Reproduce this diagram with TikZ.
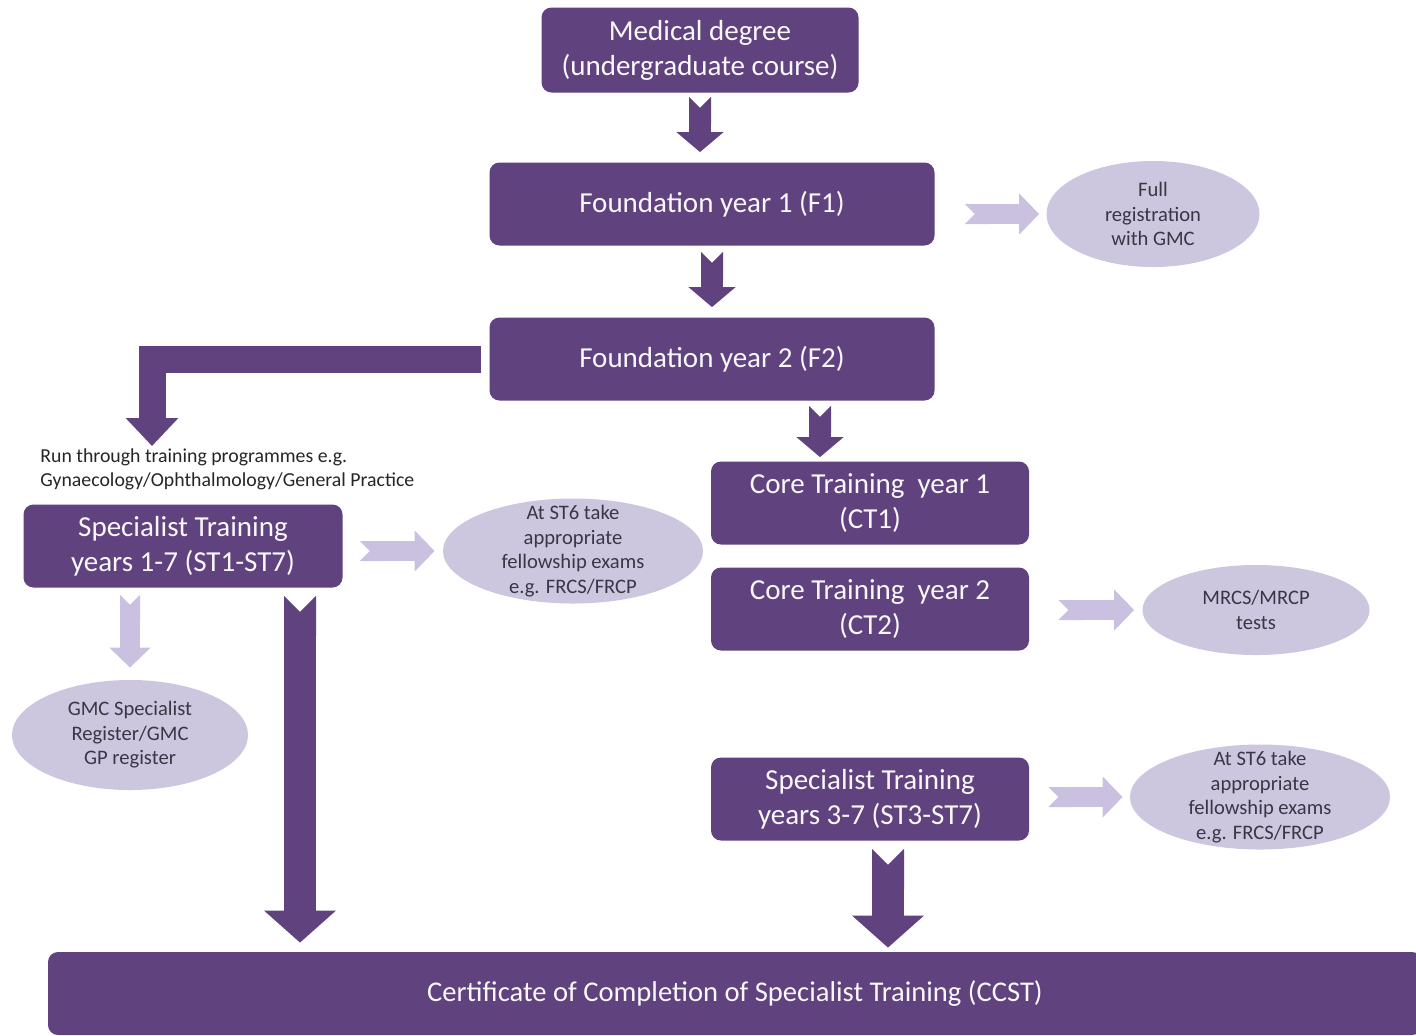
\documentclass[tikz,border=0pt]{standalone}
\usepackage{fontspec}
\setmainfont{Carlito}
\usetikzlibrary{arrows.meta,shapes.geometric}

\definecolor{plum}{RGB}{95,66,126}
\definecolor{lilac}{RGB}{205,198,223}
\definecolor{lilacarrow}{RGB}{202,193,225}
\definecolor{inkgrey}{RGB}{58,54,68}

\tikzstyle{stage}=[rectangle, rounded corners=5pt, fill=plum, text=white!96!plum, font=\fontsize{14.5}{17.5}\selectfont, align=center, inner sep=0pt]
\tikzstyle{outcome}=[ellipse, fill=lilac, inner sep=0pt]
\tikzstyle{outcome text}=[text=inkgrey, font=\fontsize{10.3}{12.25}\selectfont, align=center, inner sep=0pt]
\tikzstyle{dark arrow}=[draw=plum, line width=11pt, {Triangle Cap[reversed]}-{Triangle[width=23pt,length=10pt]}]
\tikzstyle{big arrow}=[draw=plum, line width=16pt, {Triangle Cap[reversed]}-{Triangle[width=35pt,length=16pt]}]
\tikzstyle{elbow arrow}=[draw=plum, line width=13.5pt, line join=miter, -{Triangle[width=25.5pt,length=14pt]}]
\tikzstyle{light arrow}=[draw=lilacarrow, line width=10pt, {Triangle Cap[reversed]}-{Triangle[width=20pt,length=10pt]}]

\begin{document}
\begin{tikzpicture}[x=0.5pt, y=-0.5pt]
    \useasboundingbox[fill=white] (0,0) rectangle (1416,1035);

    % main column
    \node[stage, minimum width=158.5pt, minimum height=42.5pt] (medical) at (700,50) {Medical degree\\(undergraduate course)};
    \node[stage, minimum width=222.5pt, minimum height=41.5pt] (fy1) at (712,204) {Foundation year 1 (F1)};
    \node[stage, minimum width=222.5pt, minimum height=41.5pt] (fy2) at (712,359) {Foundation year 2 (F2)};
    \node[stage, minimum width=159.5pt, minimum height=41.5pt] (st1) at (183,546) {Specialist Training\\years 1-7 (ST1-ST7)};
    \node[stage, minimum width=159pt, minimum height=41.5pt] (ct1) at (870,503) {Core Training\ \ year 1\\(CT1)};
    \node[stage, minimum width=159pt, minimum height=41.5pt] (ct2) at (870,609) {Core Training\ \ year 2\\(CT2)};
    \node[stage, minimum width=159pt, minimum height=41.5pt] (st3) at (870,799) {Specialist Training\\years 3-7 (ST3-ST7)};
    \node[stage, minimum width=687pt, minimum height=41.5pt, font=\fontsize{14.3}{17}\selectfont] (ccst) at (735,993.5) {Certificate of Completion of Specialist Training (CCST)};

    \node[anchor=north west, align=left, inner sep=0pt, text=black!85, font=\fontsize{9.9}{12}\selectfont] (runthrough) at (40,448) {Run through training programmes e.g.\\Gynaecology/Ophthalmology/General Practice};

    % outcomes
    \node[outcome, minimum width=106.5pt, minimum height=53pt, label={[outcome text]center:{Full\\registration\\with GMC}}] (fullreg) at (1153,214) {};
    \node[outcome, minimum width=130pt, minimum height=52.5pt, label={[outcome text]center:{At ST6 take\\appropriate\\fellowship exams\\e.g. FRCS/FRCP}}] (fellowa) at (573,551) {};
    \node[outcome, minimum width=118pt, minimum height=55pt, label={[outcome text]center:{GMC Specialist\\Register/GMC\\GP register}}] (gmcreg) at (130,735) {};
    \node[outcome, minimum width=113.5pt, minimum height=45pt, label={[outcome text]center:{MRCS/MRCP\\tests}}] (mrcs) at (1256,610) {};
    \node[outcome, minimum width=130pt, minimum height=52.5pt, label={[outcome text]center:{At ST6 take\\appropriate\\fellowship exams\\e.g. FRCS/FRCP}}] (fellowb) at (1260,797) {};

    \coordinate (runin) at (152,446);

    % dark arrows
    \path[dark arrow, shorten <=2pt, shorten >=5pt] (medical.south) -- (fy1.north -| medical.south);
    \path[dark arrow, shorten <=3pt, shorten >=5pt] (fy1.south) -- (fy2.north);
    \path[dark arrow, shorten <=2.5pt, shorten >=2pt] (fy2.south -| 820,0) -- (ct1.north -| 820,0);
    \path[elbow arrow, shorten <=4pt] (fy2.west) -| (runin);
    \path[big arrow, shorten <=4pt, shorten >=4.5pt] (st1.south -| 300,0) -- (ccst.north -| 300,0);
    \path[big arrow, shorten <=4pt, shorten >=2pt] (st3.south -| 888,0) -- (ccst.north -| 888,0);

    % light arrows
    \foreach \source/\sink/\pre/\post in {fy1/fullreg/15pt/3.5pt, st1/fellowa/8.5pt/4pt, ct2/mrcs/14.5pt/4pt, st3/fellowb/9.5pt/3.5pt} {
        \path[light arrow, shorten <=\pre, shorten >=\post] (\source.east |- \sink.west) -- (\sink.west);
    }
    \path[light arrow, shorten <=3.5pt, shorten >=6pt] (st1.south -| gmcreg.north) -- (gmcreg.north);
\end{tikzpicture}
\end{document}
